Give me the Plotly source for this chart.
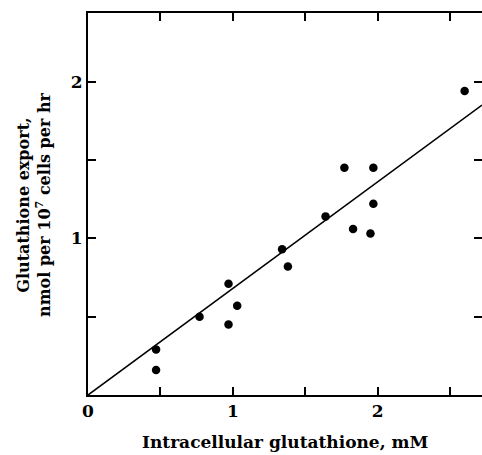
import plotly.graph_objects as go

# Data
gsh_intracellular = [0.47, 0.47, 0.77, 0.97, 0.97, 1.03, 1.34, 1.38, 1.64, 1.77, 1.83, 1.97, 1.97, 1.95, 2.60]
gsh_export = [0.29, 0.16, 0.50, 0.71, 0.45, 0.57, 0.93, 0.82, 1.14, 1.45, 1.06, 1.45, 1.22, 1.03, 1.94]
fit_x = [0, 2.72]
fit_y = [0, 1.85]

x_tickvals = [0, 0.5, 1, 1.5, 2, 2.5]
x_ticktext = ["0", "", "1", "", "2", ""]
y_tickvals = [0.5, 1, 1.5, 2]
y_ticktext = ["", "1", "", "2"]

FONT = "DejaVu Serif"

fig = go.Figure()
fig.add_trace(go.Scatter(x=fit_x, y=fit_y, mode="lines",
                         line=dict(color="black", width=1.6), showlegend=False))
fig.add_trace(go.Scatter(x=gsh_intracellular, y=gsh_export, mode="markers",
                         marker=dict(color="black", size=8.5), showlegend=False))
# invisible trace to activate right-side tick axis
fig.add_trace(go.Scatter(x=[0], y=[0], yaxis="y2", mode="markers",
                         marker=dict(opacity=0), showlegend=False, hoverinfo="skip"))

fig.update_layout(
    width=482, height=455,
    margin=dict(l=88, r=0, t=13, b=60),
    plot_bgcolor="white", paper_bgcolor="white",
    font=dict(family=FONT, color="black", size=16, weight="bold"),
    xaxis=dict(range=[0, 2.72], tickvals=x_tickvals, ticktext=x_ticktext,
               ticks="inside", ticklen=8, tickwidth=1.6, tickcolor="black",
               showline=True, linecolor="black", linewidth=2, mirror="ticks",
               showgrid=False, zeroline=False,
               tickfont=dict(family=FONT, size=17, weight="bold")),
    yaxis=dict(range=[0, 2.438], tickvals=y_tickvals, ticktext=y_ticktext,
               ticks="inside", ticklen=8, tickwidth=1.6, tickcolor="black",
               showline=True, linecolor="black", linewidth=2,
               showgrid=False, zeroline=False,
               tickfont=dict(family=FONT, size=17, weight="bold")),
    yaxis2=dict(range=[0, 2.438], overlaying="y", side="right",
                tickvals=y_tickvals, showticklabels=False,
                ticks="inside", ticklen=8, tickwidth=1.6, tickcolor="black",
                showline=False, showgrid=False, zeroline=False),
    annotations=[
        dict(text="Intracellular glutathione, mM", xref="paper", yref="paper",
             x=(285 - 88) / 394, y=(395 - 442) / 382, xanchor="center", yanchor="middle",
             showarrow=False, font=dict(family=FONT, size=17, weight="bold")),
        dict(text="Glutathione export,<br>nmol per 10<sup>7</sup> cells per hr",
             xref="paper", yref="paper",
             x=(34 - 88) / 394, y=(395 - 205) / 382, xanchor="center", yanchor="middle",
             textangle=-90, showarrow=False,
             font=dict(family=FONT, size=16, weight="bold")),
    ],
)

fig.write_html("out.html")
